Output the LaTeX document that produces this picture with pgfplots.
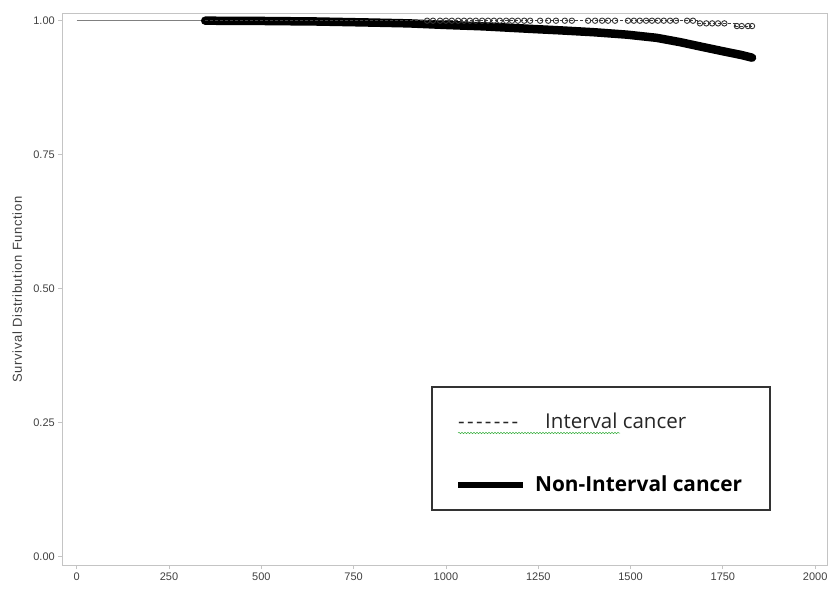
\documentclass[border=0pt]{standalone}
\usepackage{pgfplots}
\pgfplotsset{compat=1.18}
\usepackage{fontspec}
\setmainfont{Liberation Sans}
\newfontfamily\legfont{Open Sans}
\newfontfamily\labfont{Liberation Sans}[LetterSpace=5]
\usetikzlibrary{decorations.pathmorphing}

\definecolor{axgray}{HTML}{C4C4C4}
\definecolor{tickgray}{HTML}{404040}
\definecolor{spellgreen}{HTML}{3CB043}

% non-interval cancer (thick curve, starts after common segment)
\pgfplotstableread{
t s
348 1.0000
500 0.9995
650 0.9985
800 0.9965
900 0.9950
1000 0.9920
1100 0.9895
1236 0.9845
1309 0.9820
1400 0.9785
1490 0.9740
1571 0.9680
1634 0.9600
1688 0.9520
1750 0.9430
1800 0.9360
1829 0.9310
}\noninterval

% interval cancer step curve
\pgfplotstableread{
t s
348 1.000
1680 1.000
1680 0.995
1785 0.995
1785 0.990
1829 0.990
}\intervalline

% interval cancer censored points
\pgfplotstableread{
t s
949 1.000
965 1.000
984 1.000
1000 1.000
1016 1.000
1033 1.000
1049 1.000
1065 1.000
1081 1.000
1098 1.000
1114 1.000
1130 1.000
1146 1.000
1163 1.000
1179 1.000
1195 1.000
1212 1.000
1228 1.000
1255 1.000
1277 1.000
1298 1.000
1322 1.000
1341 1.000
1385 1.000
1404 1.000
1423 1.000
1439 1.000
1458 1.000
1493 1.000
1509 1.000
1525 1.000
1542 1.000
1558 1.000
1574 1.000
1590 1.000
1607 1.000
1623 1.000
1653 1.000
1669 1.000
1688 0.995
1705 0.995
1721 0.995
1737 0.995
1754 0.995
1788 0.990
1801 0.990
1818 0.990
1829 0.990
}\intervalpts

\begin{document}
\begin{tikzpicture}
\useasboundingbox (-62.3pt,-25pt) rectangle (766.7pt,565pt);
\begin{axis}[
  scale only axis,
  width=764.7pt, height=551pt,
  xmin=-39, xmax=2032,
  ymin=-0.0155, ymax=1.0125,
  xtick={0,250,...,2000},
  ytick={0,0.25,0.5,0.75,1},
  axis line style={axgray, line width=1pt},
  tick style={axgray, line width=0.8pt},
  tick align=outside,
  major tick length=4pt,
  xtick pos=bottom, ytick pos=left,
  /pgf/number format/assume math mode=true,
  ticklabel style={font=\fontsize{11}{13}\selectfont, color=tickgray},
  yticklabel style={/pgf/number format/.cd, fixed, fixed zerofill, precision=2},
  xticklabel style={/pgf/number format/.cd, 1000 sep={}},
  ylabel={Survival Distribution Function},
  ylabel style={at={(axis description cs:-0.059,0.5)}, anchor=center,
    font=\labfont\fontsize{13}{15}\selectfont, color=tickgray},
  clip=false,
]
% common segment before the curves split
\addplot[color=gray, line width=1.3pt] coordinates {(0,1) (348,1)};
% non-interval cancer
\addplot[black, line width=8.5pt, line cap=round, line join=round] table[x=t,y=s] {\noninterval};
% interval cancer
\addplot[const plot, color=black!75, line width=0.7pt, dash pattern=on 3pt off 2pt] table[x=t,y=s] {\intervalline};
\addplot[only marks, mark=o, mark size=2.7pt, mark options={black!80, line width=0.9pt, fill=white}] table[x=t,y=s] {\intervalpts};
\end{axis}
% legend box
\draw[black!80, line width=1.2pt] (369.7pt,178pt) rectangle (707.7pt,55pt);
\node[anchor=base west, inner sep=0pt, font=\legfont\fontsize{20.5}{22}\selectfont, text=black!85]
  at (395.7pt,137pt) {\makebox[60pt][s]{-\hfil-\hfil-\hfil-\hfil-\hfil-\hfil-}};
\node[anchor=base west, inner sep=0pt, font=\legfont\fontsize{20.5}{22}\selectfont, text=black!85]
  at (482.7pt,137pt) {Interval cancer};
\draw[spellgreen, line width=0.5pt, decorate, decoration={snake, amplitude=0.7pt, segment length=3pt}]
  (395.7pt,132pt) -- (557.7pt,132pt);
\draw[black, line width=6.5pt] (395.7pt,80pt) -- (460.7pt,80pt);
\node[anchor=base west, inner sep=0pt, font=\legfont\bfseries\fontsize{20.8}{22}\selectfont]
  at (472.7pt,73.5pt) {Non-Interval cancer};
\end{tikzpicture}
\end{document}
